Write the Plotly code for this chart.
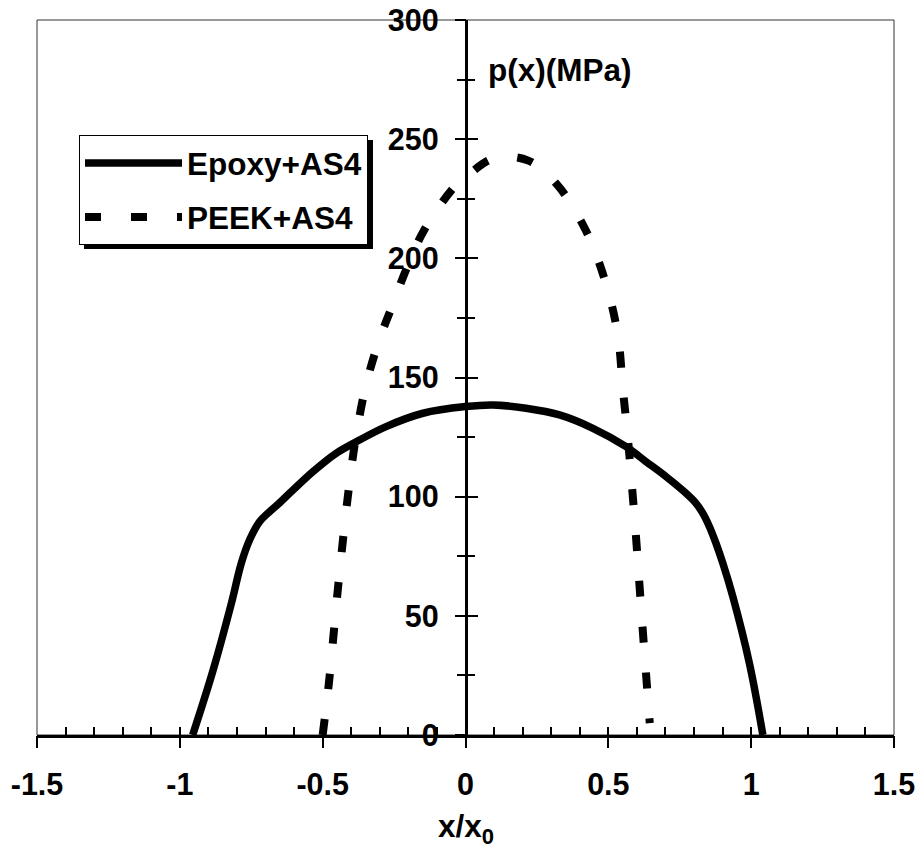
import plotly.graph_objects as go

# ---- data ----
epoxy_x = [-0.955, -0.884, -0.82, -0.785, -0.756, -0.721, -0.686, -0.65, -0.616, -0.534,
           -0.453, -0.383, -0.278, -0.149, 0.0, 0.096, 0.212, 0.329, 0.446, 0.562,
           0.632, 0.702, 0.772, 0.807, 0.831, 0.854, 0.877, 0.901, 0.936, 0.994, 1.041]
epoxy_y = [0, 27, 55, 72, 81.8, 89.5, 93.7, 97.5, 101.4, 110.5,
           118.2, 123, 129.4, 135, 137.8, 138.5, 137.1, 134.3, 128.7, 121,
           114.7, 108.4, 101.4, 97.2, 93, 87.4, 80.4, 72, 58, 30, 0]

peek_x = [-0.50, -0.478, -0.447, -0.412, -0.385, -0.348, -0.301, -0.260, -0.202, -0.144,
          -0.039, 0.0, 0.10, 0.22, 0.32, 0.42, 0.49, 0.533, 0.551, 0.568,
          0.595, 0.618, 0.645]
peek_y = [0, 22, 61, 100, 124, 147, 166, 179, 197, 212,
          230, 234, 242, 241, 231, 212, 190, 168, 145, 125,
          86, 48, 5]

x_tickvals = [-1.5, -1, -0.5, 0, 0.5, 1, 1.5]
x_ticktext = ["-1.5", "-1", "-0.5", "0", "0.5", "1", "1.5"]
y_tickvals = [0, 50, 100, 150, 200, 250, 300]
y_ticktext = ["0", "50", "100", "150", "200", "250", "300"]

FONT = "Liberation Sans, Arial, sans-serif"
W, H = 922, 849
ML, MR, MT, MB = 37, 28, 20, 114

fig = go.Figure()
fig.add_trace(go.Scatter(x=epoxy_x, y=epoxy_y, mode="lines", name="Epoxy+AS4",
                         line=dict(color="black", width=7.5, shape="spline", smoothing=1.0),
                         legendgroup="a"))
fig.add_trace(go.Scatter(x=peek_x, y=peek_y, mode="lines", name="PEEK+AS4",
                         line=dict(color="black", width=8, dash="16px,30px",
                                   shape="spline", smoothing=1.0),
                         legendgroup="b"))
# helper trace for the overlay axes (carries the outer halves of the ticks)
fig.add_trace(go.Scatter(x=[None], y=[None], xaxis="x2", yaxis="y2",
                         showlegend=False, hoverinfo="skip"))

tickfont = dict(family=FONT, size=30.5, color="black", weight="bold")

fig.update_layout(
    width=W, height=H,
    margin=dict(l=ML, r=MR, t=MT, b=MB, autoexpand=False),
    paper_bgcolor="white", plot_bgcolor="white",
    showlegend=True,
    legend=dict(x=(79 - ML) / (W - ML - MR), y=(H - MB - 135) / (H - MT - MB),
                xanchor="left", yanchor="top",
                bgcolor="white", bordercolor="black", borderwidth=1,
                font=dict(family=FONT, size=31.5, color="black", weight="bold"),
                itemwidth=97, tracegroupgap=10, traceorder="grouped"),
    xaxis=dict(range=[-1.5, 1.5], showgrid=False, zeroline=False, automargin=False,
               showline=True, linecolor="black", linewidth=2.5,
               tickmode="array", tickvals=x_tickvals, ticktext=x_ticktext,
               ticks="inside", ticklen=8, tickwidth=2, tickcolor="black",
               minor=dict(ticks="inside", dtick=0.1, ticklen=8, tickwidth=2,
                          tickcolor="black", showgrid=False),
               tickfont=tickfont, ticklabelstandoff=21, anchor="y"),
    yaxis=dict(range=[0, 300], showgrid=False, zeroline=False, automargin=False,
               showline=True, linecolor="black", linewidth=2.5,
               tickmode="array", tickvals=y_tickvals, ticktext=y_ticktext,
               ticks="inside", ticklen=11, tickwidth=2, tickcolor="black",
               minor=dict(ticks="inside", dtick=25, ticklen=8, tickwidth=2,
                          tickcolor="black", showgrid=False),
               tickfont=tickfont, ticklabelstandoff=20,
               anchor="free", position=0.5, side="left"),
    xaxis2=dict(range=[-1.5, 1.5], overlaying="x", anchor="y2", showgrid=False,
                zeroline=False, showline=False, showticklabels=False, automargin=False,
                tickmode="array", tickvals=x_tickvals,
                ticks="outside", ticklen=12, tickwidth=2, tickcolor="black"),
    yaxis2=dict(range=[0, 300], overlaying="y", anchor="free", position=0.5,
                side="left", showgrid=False, zeroline=False, showline=False,
                showticklabels=False, automargin=False,
                tickmode="array", tickvals=y_tickvals,
                ticks="outside", ticklen=11, tickwidth=2, tickcolor="black",
                minor=dict(ticks="outside", dtick=25, ticklen=9, tickwidth=2,
                           tickcolor="black", showgrid=False)),
)

# plot frame (thin) and legend shadow
pw, ph = W - ML - MR, H - MT - MB
fig.add_shape(type="rect", xref="paper", yref="paper", x0=0, x1=1, y0=0, y1=1,
              line=dict(color="#333333", width=1), layer="below")
fig.add_shape(type="rect", xref="paper", yref="paper",
              x0=(84 - ML) / pw, x1=(373 - ML) / pw,
              y0=(H - MB - 249) / ph, y1=(H - MB - 140) / ph,
              fillcolor="black", line=dict(width=0), layer="above")

fig.add_annotation(x=0, y=279, xref="x", yref="y", text="p(x)(MPa)", showarrow=False,
                   xanchor="left", yanchor="middle", xshift=20,
                   font=dict(family=FONT, size=31.5, color="black", weight="bold"))
fig.add_annotation(x=0.5, y=0, xref="paper", yref="paper", text="x/x<sub>0</sub>",
                   showarrow=False, xanchor="center", yanchor="middle", yshift=-93,
                   font=dict(family=FONT, size=31.5, color="black", weight="bold"))

fig.write_html("out.html")
